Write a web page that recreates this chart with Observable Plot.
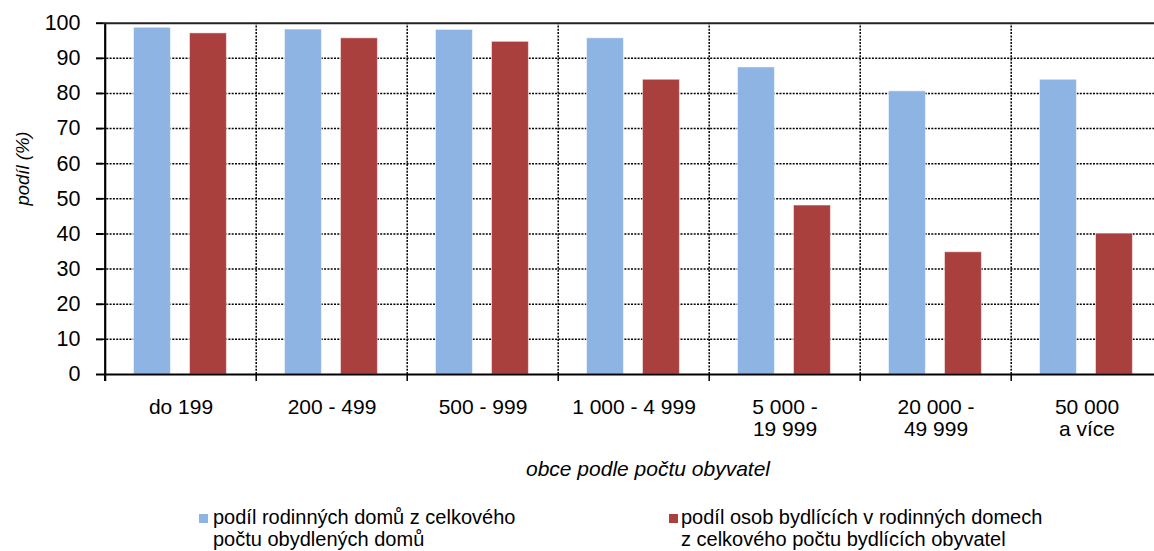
<!DOCTYPE html>
<html><head><meta charset="utf-8">
<script src="https://cdn.jsdelivr.net/npm/d3@7"></script>
<script src="https://cdn.jsdelivr.net/npm/@observablehq/plot@0.6"></script>
<style>
html,body{margin:0;padding:0;background:#fff;}
#wrap{position:relative;width:1154px;height:551px;overflow:hidden;font-family:"Liberation Sans",Arial,sans-serif;}
#legend{position:relative;width:1154px;height:56px;font-size:20px;line-height:22px;color:#000;}
.item{position:absolute;top:11px;white-space:nowrap;}
.sw{position:absolute;width:9px;height:9px;}
</style></head><body><div id="wrap"></div>
<script>
const categories = ["do 199", "200 - 499", "500 - 999", "1 000 - 4 999", "5 000 -\n19 999", "20 000 -\n49 999", "50 000\na více"];
const rodinneDomy = [98.7, 98.2, 98.1, 95.7, 87.4, 80.6, 83.9];
const osoby = [97.1, 95.7, 94.7, 83.9, 48.1, 34.8, 40.1];
const yTicks = [0, 10, 20, 30, 40, 50, 60, 70, 80, 90, 100];
const gridTicks = [10, 20, 30, 40, 50, 60, 70, 80, 90];
const seriesNames = ["podíl rodinných domů z celkového\npočtu obydlených domů", "podíl osob bydlících v rodinných domech\nz celkového počtu bydlících obyvatel"];
const colors = ["#8EB4E3", "#AA403E"];
const yTitle = "podíl (%)";
const xTitle = "obce podle počtu obyvatel";

const table = categories.map((c, i) => ({group: c, a: rodinneDomy[i], b: osoby[i]}));
const x0 = 103, x1 = 1164.2;
const step = (x1 - x0) / categories.length;
const dash = "2,1.3";
const font = "'Liberation Sans', Arial, sans-serif";

const chart = Plot.plot({
  width: 1154,
  height: 495,
  marginLeft: 103,
  marginRight: 0,
  marginTop: 23,
  marginBottom: 121,
  style: {fontFamily: font, fontSize: "20px", background: "#fff", color: "#000"},
  x: {type: "band", domain: categories, range: [x0, x1], padding: 0, axis: null},
  y: {domain: [0, 100], range: [374, 22.7], axis: null},
  marks: [
    Plot.ruleY(gridTicks, {y: d => d, stroke: "#000", strokeWidth: 1.5, strokeDasharray: dash}),
    Plot.ruleX(categories.slice(1), {x: d => d, y1: 0, y2: 100, dx: -step / 2, stroke: "#000", strokeWidth: 1.5, strokeDasharray: dash}),
    Plot.barY(table, {x: "group", y: "a", fill: colors[0], stroke: "#fff", strokeOpacity: 0.5, strokeWidth: 1, insetLeft: 28.5, insetRight: step - 28.5 - 37.5}),
    Plot.barY(table, {x: "group", y: "b", fill: colors[1], stroke: "#fff", strokeOpacity: 0.5, strokeWidth: 1, insetLeft: 84.5, insetRight: step - 84.5 - 37.5}),
    Plot.ruleX(categories, {x: d => d, y1: -2, y2: 0, dx: -step / 2, stroke: "#000", strokeWidth: 1.5}),
    Plot.ruleX([categories[0]], {x: d => d, y1: -2, y2: 100, dx: -step / 2, stroke: "#000", strokeWidth: 2.2}),
    Plot.ruleY([0], {stroke: "#000", strokeWidth: 2.2}),
    Plot.ruleY([100], {stroke: "#222", strokeWidth: 2}),
    Plot.axisY(yTicks, {tickSize: 7, tickPadding: 16, fontSize: 21.5, strokeWidth: 2, label: null}),
    Plot.text(categories, {x: d => d, y: 0, dy: 24.1, lineAnchor: "top", fontSize: 21, lineHeight: 1.03, fill: "#000"}),
    Plot.text([yTitle], {frameAnchor: "left", dx: -75, dy: 6.5, rotate: -90, lineAnchor: "bottom", fontStyle: "italic", fontSize: 18.5, fill: "#000"}),
    Plot.text([xTitle], {frameAnchor: "bottom", dx: 19, dy: 101, lineAnchor: "bottom", fontStyle: "italic", fontSize: 21, fill: "#000"})
  ]
});

const wrap = document.getElementById("wrap");
wrap.appendChild(chart);

const legend = document.createElement("div");
legend.id = "legend";
const legendPos = [{sw: 199, text: 213}, {sw: 669, text: 681}];
seriesNames.forEach((name, i) => {
  const sw = document.createElement("div");
  sw.className = "sw";
  sw.style.left = legendPos[i].sw + "px";
  sw.style.top = "19px";
  sw.style.background = colors[i];
  legend.appendChild(sw);
  const it = document.createElement("div");
  it.className = "item";
  it.style.left = legendPos[i].text + "px";
  it.innerHTML = name.split("\n").join("<br>");
  legend.appendChild(it);
});
wrap.appendChild(legend);
</script></body></html>
